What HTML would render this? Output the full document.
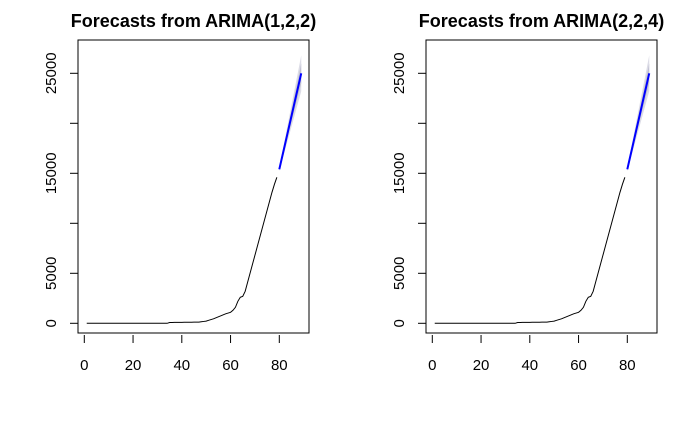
<!DOCTYPE html>
<html><head><style>
body{margin:0;background:#fff;width:700px;height:432px;overflow:hidden}
svg text{font-family:"Liberation Sans",Arial,sans-serif}
</style></head><body>
<svg id="s" width="700" height="432" xmlns="http://www.w3.org/2000/svg"></svg>
<script>
const hist={1:0,34:0,35:80,47:120,50:220,53:450,55:650,57:850,58:950,60:1100,61:1300,62:1600,63:2200,64:2600,65:2700,66:3200,67:4100,68:5000,69:5900,70:6800,71:7700,72:8600,73:9500,74:10400,75:11300,76:12200,77:13100,78:13900,79:14600};
const keys=Object.keys(hist).map(Number).sort((a,b)=>a-b);
function hv(t){for(let i=0;i<keys.length-1;i++){if(t>=keys[i]&&t<=keys[i+1]){const a=keys[i],b=keys[i+1];return hist[a]+(hist[b]-hist[a])*(t-a)/(b-a);}}return 0;}
let out='';
function plot(off,title){
 const X=t=>off+84.3+t*2.4375, Y=v=>323.3-v*0.01;
 const fc=[];for(let t=80;t<=89;t++)fc.push([t,15400+(t-80)*(25000-15400)/9]);
 let up1='',lo1='',up2='',lo2='';
 fc.forEach(([t,v],i)=>{const w=(i+1)/10;up1+=X(t)+','+Y(v+1800*w)+' ';up2+=X(t)+','+Y(v+1000*w)+' ';});
 fc.slice().reverse().forEach(([t,v])=>{const i=t-80,w=(i+1)/10;lo1+=X(t)+','+Y(v-1800*w)+' ';lo2+=X(t)+','+Y(v-1000*w)+' ';});
 out+=`<polygon points="${up1}${lo1}" fill="#dcdce6"/><polygon points="${up2}${lo2}" fill="#c0c0d2"/>`;
 let p='';for(let t=1;t<=79;t++)p+=X(t)+','+Y(hv(t))+' ';
 out+=`<polyline points="${p}" fill="none" stroke="#000" stroke-width="1"/>`;
 out+=`<polyline points="${fc.map(([t,v])=>X(t)+','+Y(v)).join(' ')}" fill="none" stroke="#0000ff" stroke-width="2"/>`;
 out+=`<rect x="${off+78}" y="40" width="231" height="293" fill="none" stroke="#000"/>`;
 out+=`<text x="${off+193.5}" y="27" text-anchor="middle" font-weight="bold" font-size="18">${title}</text>`;
 for(let t=0;t<=80;t+=20){out+=`<line x1="${X(t)}" x2="${X(t)}" y1="335" y2="343" stroke="#000"/><text x="${X(t)}" y="370" text-anchor="middle" font-size="15">${t}</text>`;}
 for(const v of [0,5000,15000,25000]){out+=`<line x1="${off+70}" x2="${off+78}" y1="${Y(v)}" y2="${Y(v)}" stroke="#000"/><text transform="translate(${off+56},${Y(v)}) rotate(-90)" text-anchor="middle" font-size="15">${v}</text>`;}
 for(const v of [10000,20000]){out+=`<line x1="${off+70}" x2="${off+78}" y1="${Y(v)}" y2="${Y(v)}" stroke="#000"/>`;}
}
plot(0,'Forecasts from ARIMA(1,2,2)');
plot(348,'Forecasts from ARIMA(2,2,4)');
document.getElementById('s').innerHTML=out;
</script>
</body></html>
